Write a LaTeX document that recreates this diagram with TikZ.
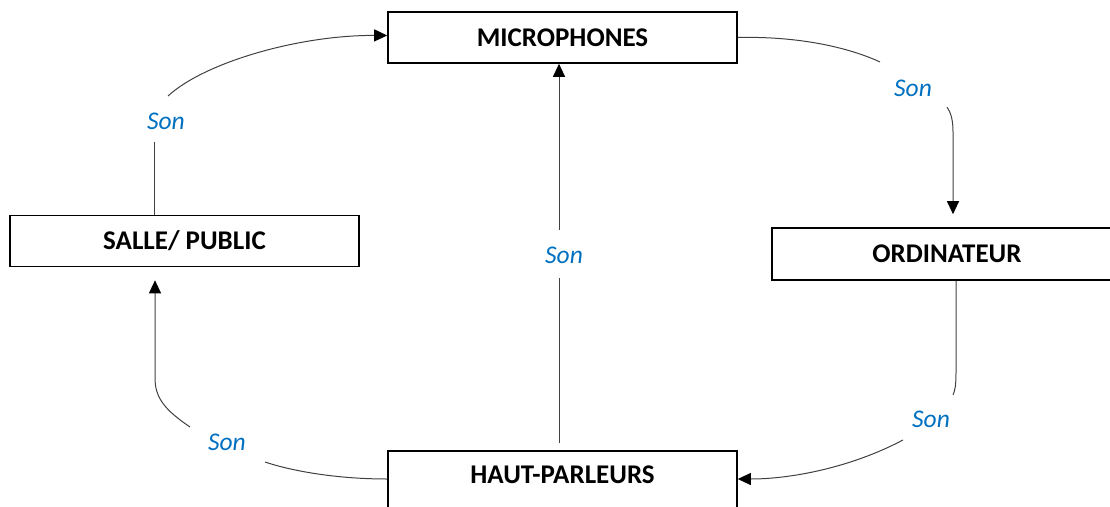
\documentclass[tikz,border=0pt]{standalone}
\usepackage{fontspec}
\setmainfont{Carlito}
\usetikzlibrary{arrows.meta}
\definecolor{sonblue}{RGB}{0,112,192}
\begin{document}
\begin{tikzpicture}[x=1pt,y=-1pt,
  box/.style={draw=black,line width=1.6pt,rectangle,minimum width=349pt,minimum height=51pt,inner sep=0pt,
    font=\fontsize{27}{32}\selectfont\bfseries,text height=17pt,text depth=0pt},
  son/.style={font=\fontsize{25.5}{30}\selectfont\itshape,text=sonblue,inner sep=0pt,text height=16pt,text depth=0pt},
  conn/.style={draw=black!75,line width=1pt},
  arr/.style={-{Triangle[length=13pt,width=12pt,black]}}]
\useasboundingbox (0,0) rectangle (1110,506);
% boxes
\node[box] (micro) at (562.5,37.5) {MICROPHONES};
\node[box] (salle) at (184.5,241) {SALLE/ PUBLIC};
\node[box,minimum width=350pt,minimum height=52pt] (ordi) at (947,254) {ORDINATEUR};
\node[box,minimum height=60pt,text depth=12pt] (haut) at (562.5,481) {HAUT-PARLEURS};
% labels
\node[son] (l1) at (166,121) {Son};
\node[son] (l2) at (913,88) {Son};
\node[son] (l3) at (564,255) {Son};
\node[son] (l4) at (931,419) {Son};
\node[son] (l5) at (227,442) {Son};
% gap end coordinates
\coordinate (g1a) at (154,142);
\coordinate (g1b) at (168,96);
\coordinate (g2a) at (880,62);
\coordinate (g2b) at (947,107);
\coordinate (g3a) at (953,395);
\coordinate (g3b) at (903,440);
\coordinate (g4a) at (265,462);
\coordinate (g4b) at (190,427);
\coordinate (g5a) at (559,278);
\coordinate (g5b) at (559,230);
% salle -> micro
\draw[conn] (salle.north -| g1a) -- (g1a);
\draw[conn,arr] (g1b) .. controls (205,62) and (300,35) .. ([yshift=2pt]micro.west);
% micro -> ordi
\draw[conn] (micro.east) .. controls (800,36) and (850,48) .. (g2a);
\draw[conn,arr,shorten >=13pt] (g2b) .. controls (951,113) and (953,120) .. (953,132) -- (ordi.north -| 953,0);
% ordi -> haut
\draw[conn] (ordi.south -| 956,0) -- (956,372) .. controls (956,386) and (955,390) .. (g3a);
\draw[conn,arr] (g3b) .. controls (850,468) and (790,479) .. ([yshift=2pt]haut.east);
% haut -> salle
\draw[conn] ([yshift=2pt]haut.west) .. controls (340,479) and (295,472) .. (g4a);
\draw[conn,arr,shorten >=13pt] (g4b) .. controls (165,410) and (155,398) .. (155,378) -- (salle.south -| 155,0);
% haut -> micro
\draw[conn,shorten <=7pt] (haut.north -| g5a) -- (g5a);
\draw[conn,arr] (g5b) -- (micro.south -| g5b);
\end{tikzpicture}
\end{document}
